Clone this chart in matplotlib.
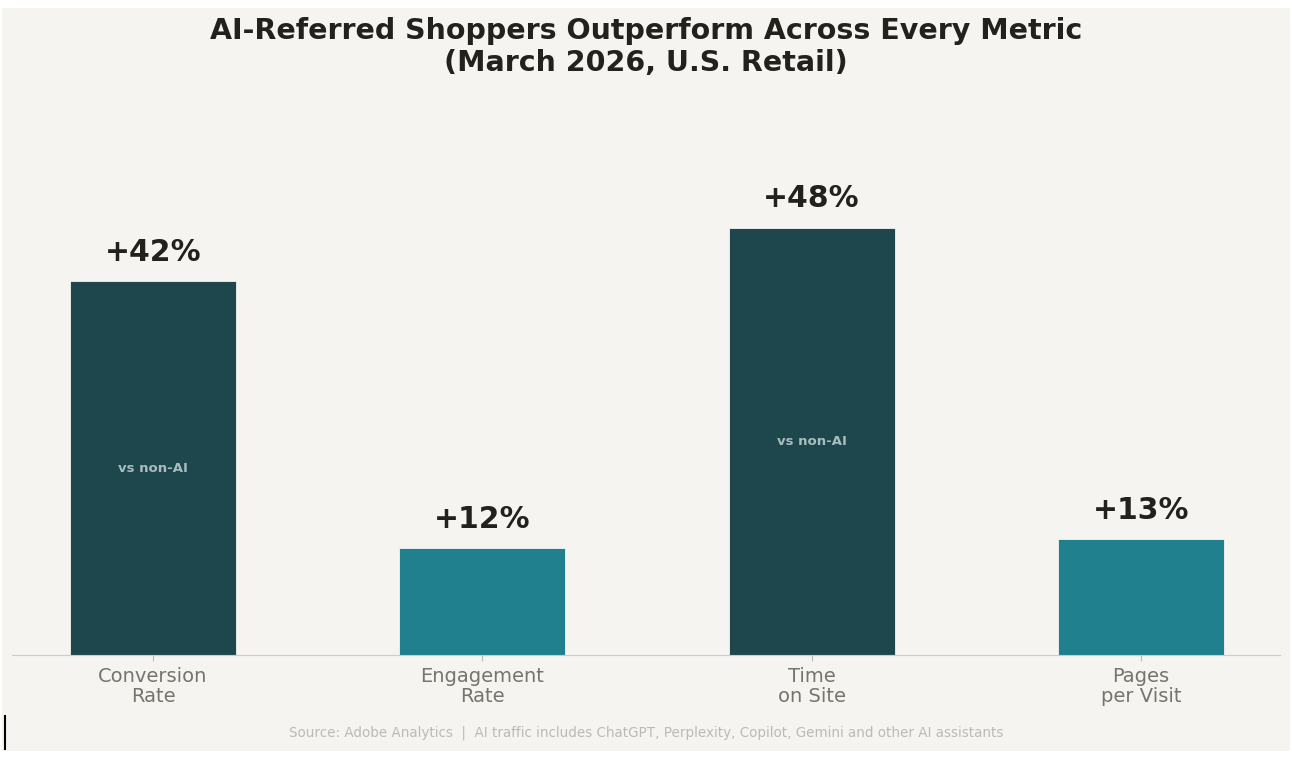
import matplotlib
matplotlib.use("Agg")
import matplotlib.pyplot as plt
from matplotlib.patches import Rectangle
from matplotlib.lines import Line2D

# data
metrics = ["Conversion\nRate", "Engagement\nRate", "Time\non Site", "Pages\nper Visit"]
uplift = [42, 12, 48, 13]
highlight = [True, False, True, False]

bg = "#f6f4f0"
dark = "#1e474d"
teal = "#20808d"

fig = plt.figure(figsize=(12.92, 7.66), dpi=100, facecolor="white")
# beige panel inside a thin white margin
fig.patches.append(Rectangle((2/1292, 15/766), 1288/1292, 743/766,
                             transform=fig.transFigure, facecolor=bg,
                             edgecolor="none", zorder=-10))
# small dark mark at lower left edge
fig.lines.append(Line2D([4.5/1292, 4.5/1292], [1-716/766, 1-749/766],
                        transform=fig.transFigure, color="black", lw=1.5))

ax = fig.add_axes([12/1292, (766-655)/766, 1268/1292, 534/766])
ax.patch.set_alpha(0)

x = list(range(len(metrics)))
cols = [dark if h else teal for h in highlight]
bars = ax.bar(x, uplift, width=0.505, color=cols, edgecolor=bg, linewidth=0.6)

for b, v, h in zip(bars, uplift, highlight):
    cx = b.get_x() + b.get_width()/2
    ax.annotate("+%d%%" % v, (cx, v), xytext=(0, 10.5), textcoords="offset points",
                ha="center", va="bottom", fontsize=21.5, fontweight="bold", color="#23211c")
    if h:
        ax.text(cx, v/2, "vs non-AI", ha="center", va="center", fontsize=9.5,
                fontweight="bold", color="#a9bdbf")

ax.set_xlim(-0.428, 3.422)
ax.set_ylim(0, 60)
ax.set_xticks(x)
ax.set_xticklabels(metrics, fontsize=14, color="#77736d", linespacing=1.0)
ax.tick_params(axis="x", length=4, color="#bbbbbb", pad=5)
ax.set_yticks([])
for s in ["top", "right", "left"]:
    ax.spines[s].set_visible(False)
ax.spines["bottom"].set_color("#cccccc")

fig.text(0.5, 1 - 47/766, "AI-Referred Shoppers Outperform Across Every Metric\n(March 2026, U.S. Retail)",
         ha="center", va="center", fontsize=20.5, fontweight="bold", color="#23211c", linespacing=1.22)
fig.text(0.5, 1 - 733/766,
         "Source: Adobe Analytics  |  AI traffic includes ChatGPT, Perplexity, Copilot, Gemini and other AI assistants",
         ha="center", va="center", fontsize=9.75, color="#bdbab4")

fig.savefig("out.png", dpi=100, facecolor="white")
